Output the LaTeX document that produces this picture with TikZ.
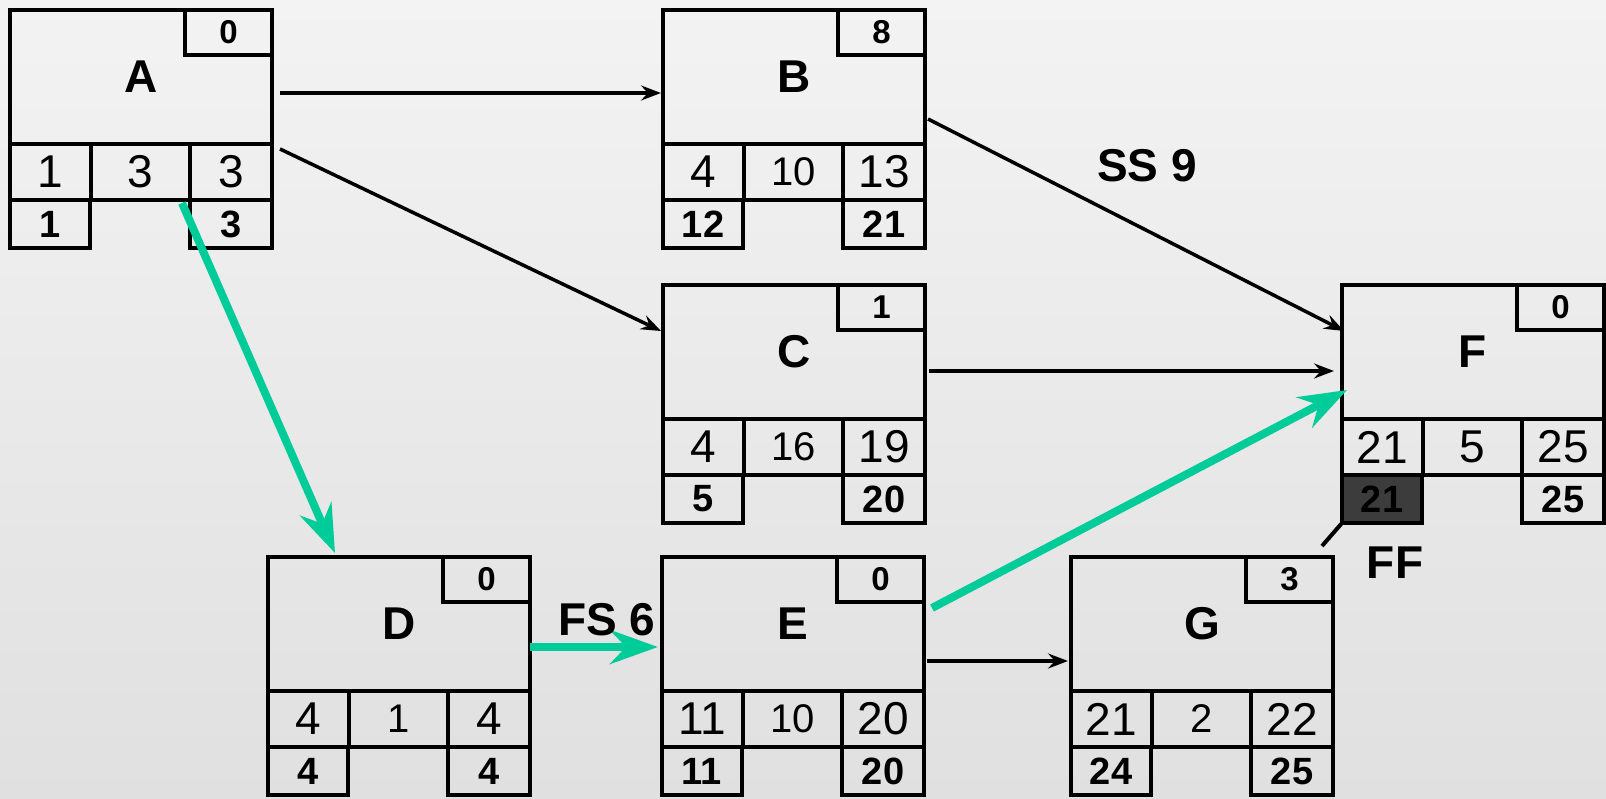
\documentclass[tikz,border=0pt]{standalone}
\usepackage{fontspec}
\setmainfont{Liberation Sans}
\usetikzlibrary{arrows.meta,calc}
\definecolor{grn}{RGB}{0,204,153}
\definecolor{darkcell}{RGB}{60,60,60}
\definecolor{bgtop}{RGB}{243,243,243}
\definecolor{bgbot}{RGB}{224,224,224}
\newcommand{\namefont}{\fontsize{46}{48}\selectfont\bfseries}
\newcommand{\slackfont}{\fontsize{33}{35}\selectfont\bfseries}
\newcommand{\sidefont}{\fontsize{46}{48}\selectfont}
\newcommand{\midfont}{\fontsize{40}{42}\selectfont}
\newcommand{\botfont}{\fontsize{38}{40}\selectfont\bfseries}
\tikzset{
  boxline/.style={draw=black, line width=4pt, inner sep=0pt, outer sep=0pt, rectangle},
  mainbox/.style={boxline, minimum width=262pt, minimum height=134pt, font=\namefont},
  slackbox/.style={boxline, minimum width=87pt, minimum height=45pt, font=\slackfont},
  midcell/.style={boxline, minimum height=56pt},
  botcell/.style={boxline, minimum height=48pt, font=\botfont},
  blk/.style={draw=black, line width=3.5pt, -{Stealth[length=20pt,width=15pt,inset=7pt]}},
  grnarrow/.style={draw=grn, line width=8pt, -{Stealth[length=48pt,width=34pt,inset=16pt]}},
  lbl/.style={font=\namefont, inner sep=0pt}
}
\newcommand{\pnode}[9]{%
  \node[mainbox, anchor=north west] (#1) at (#2) {#4};
  \node[slackbox, anchor=north east] (#1s) at (#1.north east) {#3};
  \node[midcell, minimum width=81pt, anchor=north west, font=\sidefont] (#1es) at (#1.south west) {#5};
  \node[midcell, minimum width=99pt, anchor=north west, font=\midfont] (#1d) at (#1es.north east) {#6};
  \node[midcell, minimum width=82pt, anchor=north west, font=\sidefont] (#1ef) at (#1d.north east) {#7};
  \node[botcell, minimum width=80pt, anchor=north west] (#1ls) at (#1es.south west) {#8};
  \node[botcell, minimum width=82pt, anchor=north east] (#1lf) at (#1ef.south east) {#9};
}
\begin{document}
\begin{tikzpicture}[x=1pt, y=-1pt]
\useasboundingbox (0,0) rectangle (1606,799);
\shade[top color=bgtop, bottom color=bgbot] (0,0) rectangle (1606,799);

\pnode{A}{10,10}{0}{A}{1}{\sidefont 3}{3}{1}{3}
\pnode{B}{663,10}{8}{B}{4}{10}{13}{12}{21}
\pnode{C}{663,285}{1}{C}{4}{16}{19}{5}{20}
\pnode{D}{268,557}{0}{D}{4}{1}{4}{4}{4}
\pnode{E}{662,557}{0}{E}{11}{10}{20}{11}{20}
\pnode{G}{1071,557}{3}{G}{21}{2}{22}{24}{25}
\pnode{F}{1342,285}{0}{F}{21}{\sidefont 5}{25}{21}{25}
\node[botcell, minimum width=80pt, anchor=north west, fill=darkcell] (Fls) at (Fes.south west) {21};

% black connectors
\draw[blk] ($(A.east)+(8,16)$) -- ($(B.west)+(-2,16)$);
\draw[blk] ($(A.south east)+(8,5)$) -- ($(C.west)+(-2,-21)$);
\draw[blk] ($(B.east)+(3,42)$) -- ($(F.west)+(2,-21)$);
\draw[blk] ($(C.east)+(4,19)$) -- ($(F.west)+(-8,19)$);
\draw[blk] ($(E.east)+(3,37)$) -- ($(G.west)+(-3,37)$);

% green connectors
\draw[grnarrow] ($(Ad.south east)+(-8,3)$) -- ($(D.north)+(-64,-4)$);
\draw[grnarrow] ($(D.east)+(0,23)$) -- ($(E.west)+(-4,23)$);
\draw[grnarrow] ($(E.east)+(8,-16)$) -- ($(F.west)+(5,38)$);

% FF link
\coordinate (ffend) at ($(Fls.south west)+(-20,23)$);
\draw[line width=4pt] (Fls.south west) -- (ffend);

% labels
\node[lbl] (ss) at (1147,166) {SS 9};
\node[lbl] (fs) at (607,620) {FS 6};
\node[lbl] (ff) at (1395,563) {FF};
\end{tikzpicture}
\end{document}
